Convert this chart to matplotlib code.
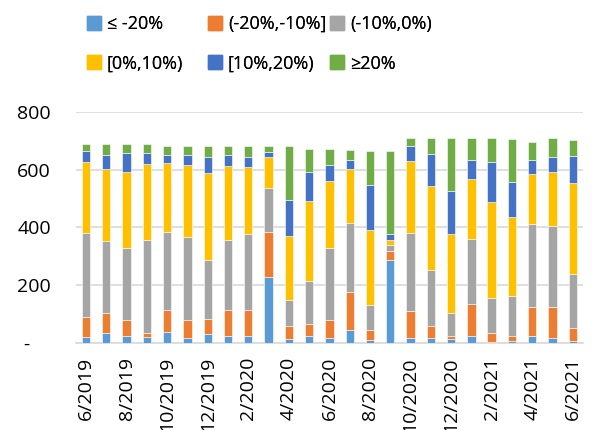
import numpy as np
import matplotlib.pyplot as plt
from matplotlib.patches import Patch

plt.rcParams['font.family'] = ['Open Sans', 'DejaVu Sans']

months = ['6/2019', '7/2019', '8/2019', '9/2019', '10/2019', '11/2019',
          '12/2019', '1/2020', '2/2020', '3/2020', '4/2020', '5/2020',
          '6/2020', '7/2020', '8/2020', '9/2020', '10/2020', '11/2020',
          '12/2020', '1/2021', '2/2021', '3/2021', '4/2021', '5/2021',
          '6/2021']
labels = ['≤ -20%', '(-20%,-10%]', '(-10%,0%)', '[0%,10%)', '[10%,20%)', '≥20%']
colors = ['#5B9BD5', '#ED7D31', '#A5A5A5', '#FFC000', '#4472C4', '#70AD47']

le_m20 = [20, 35, 24, 21, 37, 18, 31, 25, 25, 228, 15, 23, 17, 45, 12, 287,
          17, 17, 13, 24, 5, 9, 23, 17, 8]
m20_m10 = [72, 69, 55, 13, 77, 61, 52, 89, 89, 157, 43, 42, 63, 131, 32, 31,
           93, 42, 11, 111, 29, 14, 101, 107, 46]
m10_0 = [288, 250, 249, 323, 270, 287, 206, 243, 263, 153, 91, 150, 249, 239,
         87, 20, 270, 194, 81, 226, 121, 139, 288, 281, 185]
p0_10 = [247, 249, 264, 263, 238, 249, 298, 256, 232, 106, 222, 275, 231, 186,
         260, 20, 249, 291, 274, 205, 333, 274, 174, 187, 314]
p10_20 = [38, 48, 65, 39, 30, 35, 57, 39, 35, 17, 125, 102, 56, 33, 156, 20,
          54, 111, 148, 68, 139, 121, 48, 50, 94]
ge_20 = [25, 39, 31, 29, 30, 32, 38, 30, 38, 20, 185, 78, 54, 34, 118, 287,
         28, 56, 184, 76, 84, 150, 60, 67, 57]

series = [le_m20, m20_m10, m10_0, p0_10, p10_20, ge_20]

fig = plt.figure(figsize=(5.93, 4.30), dpi=100)
ax = fig.add_axes([0.128, 0.202, 0.855, 0.538])

x = np.arange(len(months))
bottom = np.zeros(len(months))
for vals, col, lab in zip(series, colors, labels):
    ax.bar(x, vals, bottom=bottom, color=col, width=0.41, label=lab,
           edgecolor='white', linewidth=0.4, zorder=3)
    bottom += np.array(vals)

ax.set_xlim(-0.5, len(months) - 0.5)
ax.set_ylim(0, 800)
ax.set_yticks(np.arange(0, 801, 200))
ax.set_yticklabels(['-    ', '200', '400', '600', '800'], fontsize=14)
ax.set_xticks(x[::2])
ax.set_xticklabels(months[::2], rotation=90, fontsize=14)
ax.tick_params(length=0, pad=10)
ax.tick_params(axis='y', pad=18)
ax.grid(axis='y', color='#D9D9D9', linewidth=1.2, zorder=0)
for s in ['top', 'right', 'left']:
    ax.spines[s].set_visible(False)
ax.spines['bottom'].set_color('#D9D9D9')
ax.spines['bottom'].set_linewidth(1.2)

# legend: 3 fixed-width columns, 2 rows (Excel style)
col_x = [87, 208, 330]
for k, px in enumerate(col_x):
    idx = [k, k + 3]
    leg = fig.legend([Patch(color=colors[i]) for i in idx],
                     [labels[i] for i in idx],
                     loc='upper left', bbox_to_anchor=(px / 593, 1 - 15 / 430),
                     frameon=False, fontsize=13, borderpad=0, borderaxespad=0,
                     handlelength=0.8, handleheight=0.8, handletextpad=0.3,
                     labelspacing=1.2)
    fig.add_artist(leg)

fig.savefig('out.png', dpi=100)
